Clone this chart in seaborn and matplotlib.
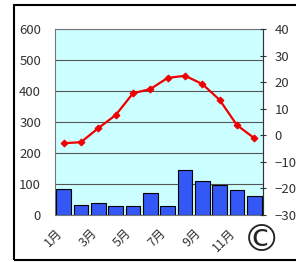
import numpy as np
import pandas as pd
import matplotlib
matplotlib.use("Agg")
import matplotlib.pyplot as plt
import matplotlib.transforms as mtransforms
import seaborn as sns
from matplotlib.patches import Rectangle

# Data
months = ["1月", "2月", "3月", "4月", "5月", "6月", "7月", "8月", "9月", "10月", "11月", "12月"]
precip = [85, 31, 38, 28, 28, 70, 29, 144, 109, 96, 80, 60]
temp = [-3.0, -2.6, 2.7, 7.6, 15.8, 17.4, 21.6, 22.4, 19.3, 13.3, 3.8, -1.1]

sns.set_style("white")
plt.rcParams['font.family'] = ['Noto Sans CJK JP', 'DejaVu Sans']

df = pd.DataFrame({"month": months, "precip": precip, "temp": temp})
df["pos"] = np.arange(len(df))

fig = plt.figure(figsize=(2.96, 2.62), dpi=100)
ax = fig.add_axes([55/296, 47/262, 208/296, 186/262])
ax.set_facecolor("#ccffff")

sns.barplot(data=df, x="month", y="precip", color="#3358f5", edgecolor="black",
            linewidth=0.8, width=0.85, saturation=1, ax=ax, zorder=3)
ax.set_ylim(0, 600)
ax.set_yticks(range(0, 601, 100))
ax.yaxis.grid(True, color="#555555", linewidth=0.8, zorder=0)
ax.set_axisbelow(True)
ax.set_xlim(-0.5, 11.5)
ax.set_xticks(range(0, 12, 2))
ax.set_xticklabels([months[i] for i in range(0, 12, 2)], rotation=45, ha="right",
                   rotation_mode="anchor", fontsize=9)
ax.set_xlabel("")
ax.set_ylabel("")
ax.tick_params(axis="y", labelsize=9.5, length=0, pad=10, colors="#333333")
ax.tick_params(axis="x", length=0, pad=8, colors="#333333")
shift = mtransforms.ScaledTranslation(-8/100, 0, fig.dpi_scale_trans)
for lab in ax.get_xticklabels():
    lab.set_transform(lab.get_transform() + shift)
for s in ax.spines.values():
    s.set_color("#777777")
    s.set_linewidth(0.8)

ax2 = ax.twinx()
sns.lineplot(data=df, x="pos", y="temp", color="#ee0000", linewidth=1.6,
             marker="D", markersize=3.5, markeredgecolor="#ee0000", ax=ax2, zorder=5)
ax2.set_ylim(-30, 40)
ax2.set_yticks(range(-30, 41, 10))
ax2.set_ylabel("")
ax2.set_xlim(-0.5, 11.5)
ax2.tick_params(axis="y", labelsize=9.5, direction="inout", length=5, width=0.8,
                color="#333333", labelcolor="#333333", pad=6)
for s in ax2.spines.values():
    s.set_visible(False)
ax2.spines["right"].set_visible(True)
ax2.spines["right"].set_color("#333333")

fig.text(262/296, 1 - 241/262, "©", fontsize=27, ha="center", va="center",
         family=["DejaVu Sans"])

fig.patches.append(Rectangle((14/296, 2/262), 1.2, 255/262, transform=fig.transFigure,
                             fill=False, edgecolor="black", linewidth=1.5))

fig.savefig("out.png", dpi=100)
